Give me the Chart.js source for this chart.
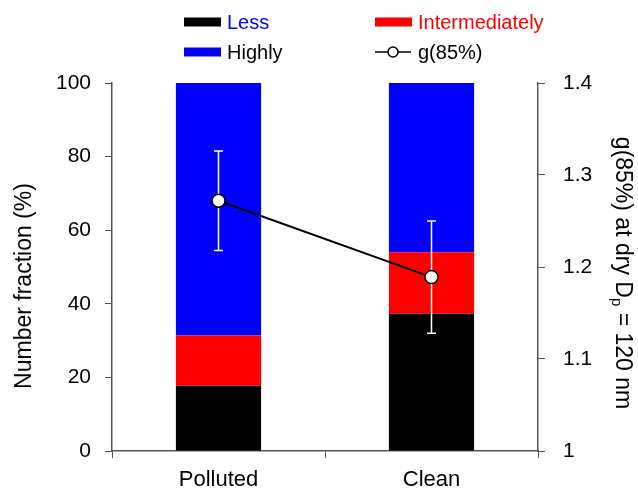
<!DOCTYPE html>
<html>
<head>
<meta charset="utf-8">
<script src="https://cdn.jsdelivr.net/npm/chart.js@4.4.0/dist/chart.umd.min.js"></script>
<style>body{margin:0;background:#fff}</style>
</head>
<body>
<canvas id="chartFraction" width="638" height="489"></canvas>
<script>
// số liệu
const categories = ["Polluted", "Clean"];
const lessValues = [17.7, 37.3];
const intermediateValues = [13.7, 16.7];
const highlyValues = [68.6, 46.0];
const gValues = [1.272, 1.189];
const gErrors = [0.054, 0.061];
const leftTicks = [0, 20, 40, 60, 80, 100];
const rightTicks = [1, 1.1, 1.2, 1.3, 1.4];

const FONT = "'Liberation Sans', Arial, sans-serif";
const AXIS_COLOR = "#555";

// error bar trắng, vẽ trước đường g(85%)
const errorBars = {
    id: "errorBars",
    beforeDatasetDraw(chart, args) {
        if (args.index !== 0) return;
        const ctx = chart.ctx;
        const y1 = chart.scales.y1;
        ctx.save();
        ctx.strokeStyle = "#fff";
        ctx.lineWidth = 1.5;
        args.meta.data.forEach((pt, i) => {
            const top = y1.getPixelForValue(gValues[i] + gErrors[i]);
            const bot = y1.getPixelForValue(gValues[i] - gErrors[i]);
            ctx.beginPath();
            ctx.moveTo(pt.x, top); ctx.lineTo(pt.x, bot);
            ctx.moveTo(pt.x - 4.5, top); ctx.lineTo(pt.x + 4.5, top);
            ctx.moveTo(pt.x - 4.5, bot); ctx.lineTo(pt.x + 4.5, bot);
            ctx.stroke();
        });
        ctx.restore();
    },
};

// chú thích + tiêu đề trục
const decorations = {
    id: "decorations",
    afterDraw(chart) {
        const ctx = chart.ctx;
        ctx.save();
        ctx.font = "20px " + FONT;
        ctx.textBaseline = "middle";
        ctx.textAlign = "left";

        const items = [
            { x: 184, y: 22, box: "#000", text: "Less", color: "#0000ff" },
            { x: 375, y: 22, box: "#ff0000", text: "Intermediately", color: "#ff0000" },
            { x: 184, y: 52, box: "#0000ff", text: "Highly", color: "#000" },
            { x: 375, y: 52, box: null, text: "g(85%)", color: "#000" },
        ];
        items.forEach(it => {
            if (it.box) {
                ctx.fillStyle = it.box;
                ctx.fillRect(it.x, it.y - 4.5, 37, 9);
            } else {
                ctx.strokeStyle = "#000";
                ctx.lineWidth = 1.5;
                ctx.beginPath();
                ctx.moveTo(it.x, it.y); ctx.lineTo(it.x + 36, it.y);
                ctx.stroke();
                ctx.beginPath();
                ctx.arc(it.x + 18, it.y, 5, 0, Math.PI * 2);
                ctx.fillStyle = "#fff";
                ctx.fill();
                ctx.stroke();
            }
            ctx.fillStyle = it.color;
            ctx.fillText(it.text, it.x + 43, it.y + 1);
        });

        // trục trái
        ctx.fillStyle = "#000";
        ctx.font = "23px " + FONT;
        ctx.save();
        ctx.translate(25, 286);
        ctx.rotate(-Math.PI / 2);
        ctx.textAlign = "center";
        ctx.fillText("Number fraction (%)", 0, 0);
        ctx.restore();

        // trục phải, có chỉ số dưới p
        ctx.save();
        ctx.translate(616, 273);
        ctx.rotate(Math.PI / 2);
        ctx.textBaseline = "alphabetic";
        const partA = "g(85%) at dry D";
        const partB = " = 120 nm";
        ctx.font = "23px " + FONT;
        const wA = ctx.measureText(partA).width;
        const wB = ctx.measureText(partB).width;
        ctx.font = "15px " + FONT;
        const wP = ctx.measureText("p").width;
        let x = -(wA + wP + wB) / 2;
        ctx.font = "23px " + FONT;
        ctx.fillText(partA, x, 0);
        x += wA;
        ctx.font = "15px " + FONT;
        ctx.fillText("p", x, 4);
        x += wP;
        ctx.font = "23px " + FONT;
        ctx.fillText(partB, x, 0);
        ctx.restore();

        ctx.restore();
    },
};

const ctxFraction = document.getElementById("chartFraction").getContext("2d");
const chartFraction = new Chart(ctxFraction, {
    type: "bar",
    data: {
        labels: categories,
        datasets: [
            {
                type: "line",
                label: "g(85%)",
                data: gValues,
                yAxisID: "y1",
                borderColor: "#000",
                borderWidth: 2,
                pointRadius: 6.5,
                pointBackgroundColor: "#fff",
                pointBorderColor: "#000",
                pointBorderWidth: 1.5,
                order: 0,
            },
            { label: "Less", data: lessValues, backgroundColor: "#000", order: 1 },
            { label: "Intermediately", data: intermediateValues, backgroundColor: "#ff0000", order: 1 },
            { label: "Highly", data: highlyValues, backgroundColor: "#0000ff", order: 1 },
        ],
    },
    options: {
        responsive: false,
        animation: false,
        barPercentage: 0.4,
        categoryPercentage: 1,
        layout: { padding: { top: 83, left: 0, right: 0, bottom: 0 } },
        plugins: {
            legend: { display: false },
            tooltip: { enabled: false },
        },
        scales: {
            x: {
                stacked: true,
                afterFit: s => { s.height = 38; },
                grid: { drawOnChartArea: false, color: AXIS_COLOR, tickLength: 7 },
                border: { color: AXIS_COLOR, width: 1.5 },
                ticks: { color: "#000", font: { family: FONT, size: 22 }, padding: 9 },
            },
            y: {
                stacked: true,
                min: 0,
                max: 100,
                afterFit: s => { s.width = 112; },
                afterBuildTicks: s => { s.ticks = leftTicks.map(v => ({ value: v })); },
                grid: { drawOnChartArea: false, color: AXIS_COLOR, tickLength: 7 },
                border: { color: AXIS_COLOR, width: 1.5 },
                ticks: { color: "#000", font: { family: FONT, size: 21 }, padding: 14 },
            },
            y1: {
                position: "right",
                min: 1,
                max: 1.4,
                afterFit: s => { s.width = 100; },
                afterBuildTicks: s => { s.ticks = rightTicks.map(v => ({ value: v })); },
                grid: { drawOnChartArea: false, color: AXIS_COLOR, tickLength: 7 },
                border: { color: AXIS_COLOR, width: 1.5 },
                ticks: {
                    color: "#000",
                    font: { family: FONT, size: 21 },
                    padding: 18,
                    callback: v => String(Math.round(v * 10) / 10),
                },
            },
        },
    },
    plugins: [errorBars, decorations],
});
</script>
</body>
</html>
